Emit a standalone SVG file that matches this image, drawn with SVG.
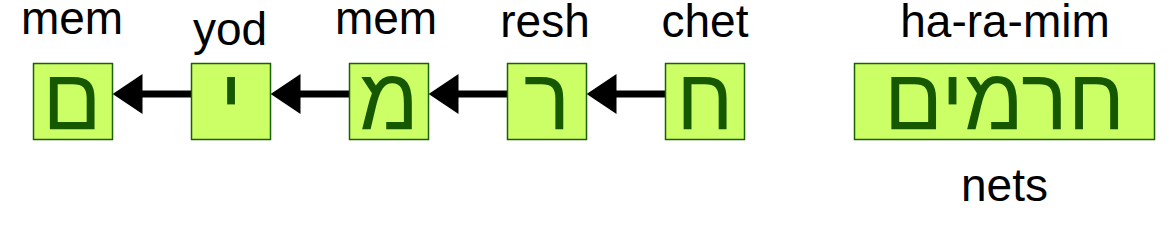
<svg xmlns="http://www.w3.org/2000/svg" width="1174" height="239" viewBox="0 0 1174 239">
  <style>
    .box { fill: #ccff66; stroke: #1a6100; stroke-width: 1.5; }
    .heb { font-family: "Liberation Sans", "DejaVu Sans", sans-serif; font-size: 87px; fill: #155800; text-anchor: middle; }
    .lbl { font-family: "Liberation Sans", Arial, sans-serif; font-size: 46px; fill: #000; text-anchor: middle; }
    .conn { stroke: #000; stroke-width: 7; fill: none; marker-end: url(#head); }
  </style>
  <defs>
    <marker id="head" markerUnits="userSpaceOnUse" markerWidth="30" markerHeight="40" viewBox="0 -20 30 40" refX="1" refY="0" orient="auto">
      <path d="M0,-20 L30,0 L0,20 Z" fill="#000"/>
    </marker>
  </defs>
  <rect width="1174" height="239" fill="#fff"/>
  <g id="connectors">
    <line class="conn" x1="665.5" y1="94" x2="615.5" y2="94"/>
    <line class="conn" x1="507.5" y1="94" x2="457.5" y2="94"/>
    <line class="conn" x1="349.5" y1="94" x2="299.5" y2="94"/>
    <line class="conn" x1="191.5" y1="94" x2="141.5" y2="94"/>
  </g>
  <g id="node-mem-final">
    <rect class="box" x="33.5" y="63.5" width="79" height="76"/>
    <text class="heb" x="72" y="129">ם</text>
    <text class="lbl" x="72" y="34">mem</text>
  </g>
  <g id="node-yod">
    <rect class="box" x="191.5" y="63.5" width="79" height="76"/>
    <text class="heb" x="231" y="129">י</text>
    <text class="lbl" x="230" y="45">yod</text>
  </g>
  <g id="node-mem">
    <rect class="box" x="349.5" y="63.5" width="79" height="76"/>
    <text class="heb" x="389" y="129">מ</text>
    <text class="lbl" x="386" y="34">mem</text>
  </g>
  <g id="node-resh">
    <rect class="box" x="507.5" y="63.5" width="79" height="76"/>
    <text class="heb" x="547" y="129">ר</text>
    <text class="lbl" x="545" y="37">resh</text>
  </g>
  <g id="node-chet">
    <rect class="box" x="665.5" y="63.5" width="79" height="76"/>
    <text class="heb" x="705" y="129">ח</text>
    <text class="lbl" x="705" y="37">chet</text>
  </g>
  <g id="node-haramim">
    <rect class="box" x="854.5" y="63.5" width="300" height="76"/>
    <text class="heb" x="1004.5" y="129">חרמים</text>
    <text class="lbl" x="1005" y="37">ha-ra-mim</text>
    <text class="lbl" x="1004.5" y="201">nets</text>
  </g>
</svg>
